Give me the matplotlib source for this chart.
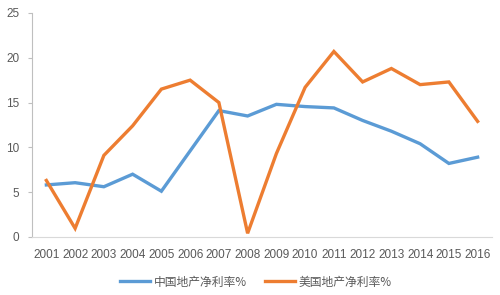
import matplotlib
matplotlib.use("Agg")
import matplotlib.pyplot as plt

# données
annees = ["2001", "2002", "2003", "2004", "2005", "2006", "2007", "2008",
          "2009", "2010", "2011", "2012", "2013", "2014", "2015", "2016"]
chine = [5.8, 6.05, 5.6, 7.0, 5.1, 9.6, 14.1, 13.5,
         14.8, 14.55, 14.4, 13.0, 11.8, 10.4, 8.2, 8.9]
usa = [6.3, 0.95, 9.1, 12.4, 16.5, 17.5, 15.0, 0.4,
       9.3, 16.7, 20.7, 17.3, 18.8, 17.0, 17.3, 12.9]
noms = ["中国地产净利率%", "美国地产净利率%"]

plt.rcParams['font.family'] = ['Liberation Sans', 'Noto Sans CJK SC', 'DejaVu Sans']

fig = plt.figure(figsize=(5, 2.95), dpi=100)
ax = fig.add_axes([0.064, 0.197, 0.92, 0.759])

x = list(range(len(annees)))
ax.plot(x, chine, color="#5B9BD5", lw=2.4, label=noms[0], solid_joinstyle="miter")
ax.plot(x, usa, color="#ED7D31", lw=2.4, label=noms[1], solid_joinstyle="miter")

ax.set_xlim(-0.5, len(annees) - 0.5)
ax.set_ylim(0, 25)
ax.set_yticks([0, 5, 10, 15, 20, 25])
ax.set_xticks(x)
ax.set_xticklabels(annees)

for s in ["top", "right"]:
    ax.spines[s].set_visible(False)
ax.spines["left"].set_color("#BFBFBF")
ax.spines["bottom"].set_color("#D9D9D9")
ax.tick_params(axis="y", length=3, color="#BFBFBF", labelsize=8.5, labelcolor="#595959", pad=6)
ax.tick_params(axis="x", length=0, labelsize=8.5, labelcolor="#595959", pad=9)

fig.legend(loc="center", bbox_to_anchor=(0.512, 0.044), ncol=2, frameon=False,
           prop={'family': ['Noto Sans CJK SC', 'DejaVu Sans'], 'size': 8.5},
           handlelength=2.5, handletextpad=0.3, columnspacing=1.6, labelcolor="#595959")

plt.savefig("out.png", dpi=100)
